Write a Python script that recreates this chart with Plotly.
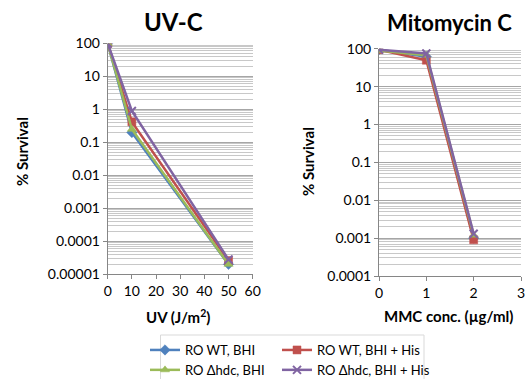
import plotly.graph_objects as go

# ---- data ----
uv_dose = [0, 10, 50]
mmc_conc = [0, 1, 2]
series_names = ["RO WT, BHI", "RO WT, BHI + His", "RO Δhdc, BHI", "RO Δhdc, BHI + His"]
uv_wt_bhi = [100, 0.2, 0.00002]
uv_wt_his = [100, 0.42, 0.000026]
uv_hdc_bhi = [100, 0.25, 0.00002]
uv_hdc_his = [100, 0.9, 0.000028]
mmc_wt_bhi = [95, 62, 0.001]
mmc_wt_his = [95, 50, 0.0009]
mmc_hdc_bhi = [90, 68, 0.0012]
mmc_hdc_his = [95, 75, 0.0013]
uv_ticks = [100, 10, 1, 0.1, 0.01, 0.001, 0.0001, 0.00001]
uv_ticktext = ["100", "10", "1", "0.1", "0.01", "0.001", "0.0001", "0.00001"]
mmc_ticks = [100, 10, 1, 0.1, 0.01, 0.001, 0.0001]
mmc_ticktext = ["100", "10", "1", "0.1", "0.01", "0.001", "0.0001"]

colors = ["#4F81BD", "#C0504D", "#9BBB59", "#8064A2"]
symbols = ["diamond", "square", "triangle-up", "x-thin"]
legends = ["legend", "legend2", "legend", "legend2"]
uv_data = [uv_wt_bhi, uv_wt_his, uv_hdc_bhi, uv_hdc_his]
mmc_data = [mmc_wt_bhi, mmc_wt_his, mmc_hdc_bhi, mmc_hdc_his]

FONT = "Lato, 'Open Sans', sans-serif"
fig = go.Figure()
for i in range(4):
    mk = dict(symbol=symbols[i], size=8, color=colors[i],
              line=dict(color=colors[i], width=2 if symbols[i] == "x-thin" else 0.5))
    fig.add_trace(go.Scatter(x=uv_dose, y=uv_data[i], mode="lines+markers", name=series_names[i],
                             line=dict(color=colors[i], width=2.5), marker=mk,
                             xaxis="x", yaxis="y", legend=legends[i]))
for i in range(4):
    mk = dict(symbol=symbols[i], size=8, color=colors[i],
              line=dict(color=colors[i], width=2 if symbols[i] == "x-thin" else 0.5))
    fig.add_trace(go.Scatter(x=mmc_conc, y=mmc_data[i], mode="lines+markers", name=series_names[i],
                             line=dict(color=colors[i], width=2.5), marker=mk,
                             xaxis="x2", yaxis="y2", showlegend=False))

W, H = 526, 379
def px(x): return x / W
def py(y): return 1 - y / H

axis_common = dict(showline=True, linecolor="#868686", linewidth=1, ticks="outside",
                   ticklen=4, tickcolor="#868686", tickfont=dict(family=FONT, size=14, color="#000"),
                   zeroline=False, automargin=False)
minor = dict(dtick="D1", showgrid=True, gridcolor="#C8C8C8", gridwidth=1, ticks="")

fig.update_layout(
    width=W, height=H, margin=dict(l=0, r=0, t=0, b=0, autoexpand=False),
    paper_bgcolor="white", plot_bgcolor="white", showlegend=True,
    xaxis=dict(domain=[px(107.7), px(252.7)], range=[0, 60], dtick=10, showgrid=False,
               anchor="y", **axis_common),
    yaxis=dict(domain=[py(274.3), py(43.5)], type="log", range=[-5, 2], tickvals=uv_ticks,
               ticktext=uv_ticktext, showgrid=True, gridcolor="#A6A6A6", gridwidth=1,
               minor=minor, anchor="x", **axis_common),
    xaxis2=dict(domain=[px(379), px(521)], range=[0, 3], dtick=1, showgrid=False,
                anchor="y2", **axis_common),
    yaxis2=dict(domain=[py(276), py(48.8)], type="log", range=[-4, 2], tickvals=mmc_ticks,
                ticktext=mmc_ticktext, showgrid=True, gridcolor="#A6A6A6", gridwidth=1,
                minor=minor, anchor="x2", **axis_common),
    legend=dict(x=px(145), y=py(335), xanchor="left", yanchor="top", orientation="v",
                font=dict(family=FONT, size=13, color="#000"), itemwidth=30,
                bgcolor="rgba(0,0,0,0)", tracegroupgap=0),
    legend2=dict(x=px(277), y=py(335), xanchor="left", yanchor="top", orientation="v",
                 font=dict(family=FONT, size=13, color="#000"), itemwidth=30,
                 bgcolor="rgba(0,0,0,0)", tracegroupgap=0),
    shapes=[dict(type="rect", xref="paper", yref="paper", x0=px(160.5), x1=px(424),
                 y0=py(382), y1=py(335), line=dict(color="#D9D9D9", width=1))],
)

ann = [
    dict(text="<b>UV-C</b>", x=px(173), y=py(21), font=dict(size=24)),
    dict(text="<b>Mitomycin C</b>", x=px(449), y=py(22), font=dict(size=22)),
    dict(text="<b>UV (J/m<sup>2</sup>)</b>", x=px(178), y=py(316), font=dict(size=15)),
    dict(text="<b>MMC conc. (µg/ml)</b>", x=px(448), y=py(316), font=dict(size=15)),
    dict(text="<b>% Survival</b>", x=px(22), y=py(152), font=dict(size=15), textangle=-90),
    dict(text="<b>% Survival</b>", x=px(308), y=py(162), font=dict(size=15), textangle=-90),
]
for a in ann:
    a.update(xref="paper", yref="paper", showarrow=False, xanchor="center", yanchor="middle")
    a["font"].update(family=FONT, color="#000")
fig.update_layout(annotations=ann)

fig.write_html("out.html", config={"displayModeBar": False},
               post_script="document.body.style.margin='0';document.body.style.overflow='hidden';")
